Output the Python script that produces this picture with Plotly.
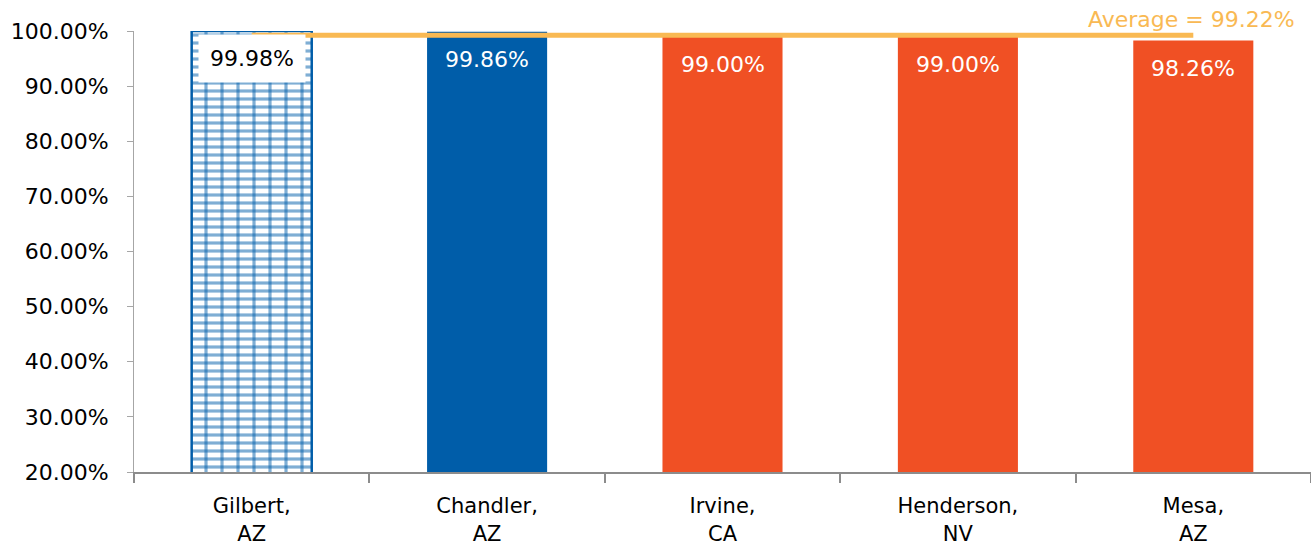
import plotly.graph_objects as go

cities = ["Gilbert,<br>AZ", "Chandler,<br>AZ", "Irvine,<br>CA", "Henderson,<br>NV", "Mesa,<br>AZ"]
rates = [99.98, 99.86, 99.00, 99.00, 98.26]
average = 99.22
y_ticks = [20, 30, 40, 50, 60, 70, 80, 90, 100]

BLUE = "#005DA9"
ORANGE = "#F05024"
GOLD = "#F9B953"
FONT = "DejaVu Sans"

fig = go.Figure()

# Gilbert: white bar with a brick-like pattern (horizontal courses + vertical joints)
fig.add_trace(go.Bar(
    x=cities[:1], y=rates[:1], width=0.51,
    marker=dict(color="white", line=dict(color=BLUE, width=2.5),
                pattern=dict(shape="-", size=8, solidity=0.4, fgcolor=BLUE,
                             bgcolor="white", fillmode="overlay")),
    showlegend=False, hoverinfo="skip",
))
fig.add_trace(go.Bar(
    x=cities[:1], y=rates[:1], width=0.51,
    marker=dict(color="rgba(0,0,0,0)", line=dict(width=0),
                pattern=dict(shape="|", size=16, solidity=0.2, fgcolor=BLUE,
                             bgcolor="rgba(0,0,0,0)", fillmode="overlay")),
    showlegend=False, hoverinfo="skip",
))

# Remaining cities as solid bars
fig.add_trace(go.Bar(
    x=cities[1:], y=rates[1:], width=0.51,
    marker=dict(color=[BLUE, ORANGE, ORANGE, ORANGE], line=dict(width=0)),
    showlegend=False, hoverinfo="skip",
))

# Average line across the bars
fig.add_trace(go.Scatter(
    x=cities, y=[average] * len(cities), mode="lines",
    line=dict(color=GOLD, width=5),
    showlegend=False, hoverinfo="skip",
))

# Value labels inside the top of each bar
for i, (c, v) in enumerate(zip(cities, rates)):
    if i == 0:
        fig.add_annotation(x=c, y=v, text=f"{v:.2f}%", showarrow=False,
                           yanchor="middle", yshift=-27,
                           font=dict(family=FONT, size=22, color="black"),
                           bgcolor="white", borderpad=11)
    else:
        fig.add_annotation(x=c, y=v, text=f"{v:.2f}%", showarrow=False,
                           yanchor="middle", yshift=-28,
                           font=dict(family=FONT, size=22, color="white"))

fig.add_annotation(xref="paper", x=0.988, y=average, yshift=16,
                   text=f"Average = {average:.2f}%", showarrow=False,
                   xanchor="right", yanchor="middle",
                   font=dict(family=FONT, size=22, color=GOLD))

fig.update_layout(
    width=1311, height=546,
    margin=dict(l=134, r=0, t=31, b=74),
    barmode="overlay",
    plot_bgcolor="white", paper_bgcolor="white",
    font=dict(family=FONT, size=21, color="black"),
    xaxis=dict(
        type="category", showgrid=False,
        showline=True, linecolor="#8C8C8C", linewidth=2,
        ticks="outside", tickson="boundaries", ticklen=9, tickcolor="#8C8C8C", tickwidth=2,
        tickfont=dict(family=FONT, size=21, color="black"),
        ticklabelstandoff=14,
    ),
    yaxis=dict(
        range=[20, 100], tickvals=y_ticks,
        ticktext=[f"{t:.2f}%" for t in y_ticks],
        showgrid=False, zeroline=False,
        showline=True, linecolor="#A6A6A6", linewidth=1,
        ticks="outside", ticklen=6, tickcolor="#A6A6A6",
        tickfont=dict(family=FONT, size=22, color="black"),
        ticklabelstandoff=14,
    ),
)

fig.write_html("out.html")
